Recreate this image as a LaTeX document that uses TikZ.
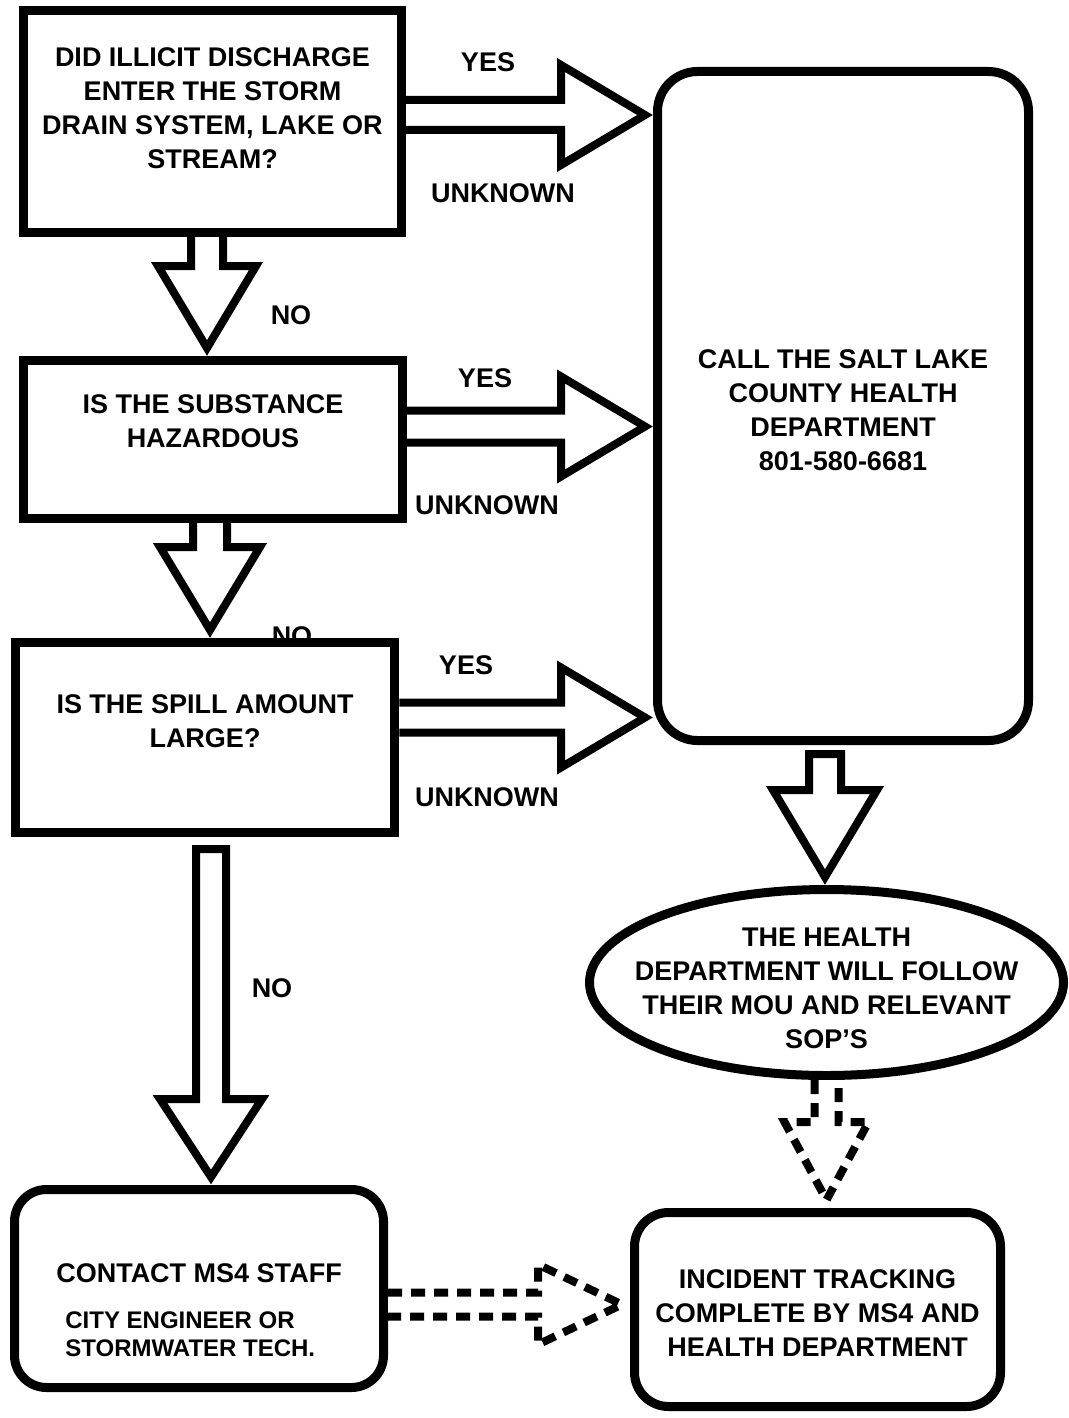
\documentclass[tikz,border=0pt]{standalone}
\usepackage{fontspec}
\setmainfont{Liberation Sans}
\usetikzlibrary{calc,shapes.geometric}

\tikzset{
  box/.style={draw, line width=4.5pt, fill=white, inner sep=0pt},
  txt/.style={font=\bfseries\fontsize{13.5}{17}\selectfont, align=center, inner sep=0pt},
  subtxt/.style={font=\bfseries\fontsize{12}{14}\selectfont, align=left, inner sep=0pt},
  blockarr/.style={draw, line width=4pt, fill=white, line join=miter, miter limit=10},
  dasharr/.style={blockarr, dash pattern=on 7pt off 4.5pt},
  fatright/.style n args={3}{to path={let \p1=(\tikztostart), \p2=(\tikztotarget) in
    (\x1,\y1+#1) -- (\x2-#3,\y1+#1) -- (\x2-#3,\y1+#2) -- (\x2,\y1)
    -- (\x2-#3,\y1-#2) -- (\x2-#3,\y1-#1) -- (\x1,\y1-#1)}},
  fatdown/.style n args={3}{to path={let \p1=(\tikztostart), \p2=(\tikztotarget) in
    (\x1-#1,\y1) -- (\x1-#1,\y2+#3) -- (\x1-#2,\y2+#3) -- (\x1,\y2)
    -- (\x1+#2,\y2+#3) -- (\x1+#1,\y2+#3) -- (\x1+#1,\y1)}}
}

\begin{document}
\begin{tikzpicture}[x=0.5pt,y=-0.5pt]
\useasboundingbox (0,0) rectangle (1069,1418);
    \begin{scope}[txt]
\node (yes1) at (488,62) {YES};
\node (unk1) at (503,193) {UNKNOWN};
\node (no1) at (291,315) {NO};
\node (yes2) at (485,378) {YES};
\node (unk2) at (487,505) {UNKNOWN};
\node (no2) at (292,636) {NO};
\node (yes3) at (466,665) {YES};
\node (unk3) at (487,797) {UNKNOWN};
\node (no3) at (272,988) {NO};
    \end{scope}

% boxes
\node[box, minimum width=189pt, minimum height=111pt] (q1) at (212.5,121.5) {};
\node[box, minimum width=189.5pt, minimum height=79pt] (q2) at (213,439.5) {};
\node[box, minimum width=189.75pt, minimum height=95pt] (q3) at (205,737.5) {};
\node[box, rounded corners=20pt, minimum width=185.5pt, minimum height=334.5pt] (call) at (843,406) {};
\node[box, ellipse, minimum width=237pt, minimum height=93pt] (hd) at (826.5,982.5) {};
\node[box, rounded corners=16pt, minimum width=184.5pt, minimum height=99pt] (ms4) at (199,1288.5) {};
\node[box, rounded corners=17pt, minimum width=183pt, minimum height=97pt] (track) at (817.5,1309.5) {};

\node[txt] (q1txt) at ([yshift=6.5pt]q1.center) {DID ILLICIT DISCHARGE\\ENTER THE STORM\\DRAIN SYSTEM, LAKE OR\\STREAM?};
\node[txt] (q2txt) at ([yshift=9pt]q2.center) {IS THE SUBSTANCE\\HAZARDOUS};
\node[txt] (q3txt) at ([yshift=8pt]q3.center) {IS THE SPILL AMOUNT\\LARGE?};
\node[txt] (calltxt) at ([yshift=-2pt]call.center) {CALL THE SALT LAKE\\COUNTY HEALTH\\DEPARTMENT\\801-580-6681};
\node[txt] (hdtxt) at ([yshift=-3pt]hd.center) {THE HEALTH\\DEPARTMENT WILL FOLLOW\\THEIR MOU AND RELEVANT\\SOP’S};
\node[txt] (ms4txt) at ([yshift=7.75pt]ms4.center) {CONTACT MS4 STAFF};
\node[subtxt, anchor=west] (ms4sub) at ([xshift=27.5pt,yshift=-22.75pt]ms4.west) {CITY ENGINEER OR\\STORMWATER TECH.};
\node[txt] (tracktxt) at ([yshift=-2pt]track.center) {INCIDENT TRACKING\\COMPLETE BY MS4 AND\\HEALTH DEPARTMENT};

% yes / unknown
\draw[blockarr, fatright={7.5pt}{25pt}{42pt}] ([yshift=3.25pt]q1.east) to ([xshift=-4pt]call.west);
\draw[blockarr, fatright={8pt}{25pt}{42pt}] ([yshift=6.5pt]q2.east) to ([xshift=-4pt]call.west);
\draw[blockarr, fatright={7.5pt}{25pt}{42pt}] ([yshift=10pt]q3.east) to ([xshift=-4pt]call.west);
% no
\draw[blockarr, fatdown={8pt}{24.5pt}{41pt}] ([xshift=-2.75pt]q1.south) to ([yshift=4pt]q2.north);
\draw[blockarr, fatdown={8.5pt}{25pt}{41.5pt}] ([xshift=-1.5pt]q2.south) to ([yshift=4pt]q3.north);
\draw[blockarr, fatdown={7.5pt}{25.5pt}{39pt}] ([xshift=3pt,yshift=-6pt]q3.south) to ([yshift=4pt]ms4.north) -- cycle;
\draw[blockarr, fatdown={8pt}{26pt}{43.5pt}] ([xshift=-9pt,yshift=-4.5pt]call.south) to ([yshift=4pt]hd.north) -- cycle;
\draw[dasharr, fatdown={6pt}{21pt}{39pt}] (hd.south) to ([yshift=4pt]track.north);
\draw[dasharr, fatright={6pt}{20pt}{42pt}] ([yshift=-8pt]ms4.east) to ([xshift=-4pt]track.west);
%\node at (843,406) {x};
\end{tikzpicture}
\end{document}
